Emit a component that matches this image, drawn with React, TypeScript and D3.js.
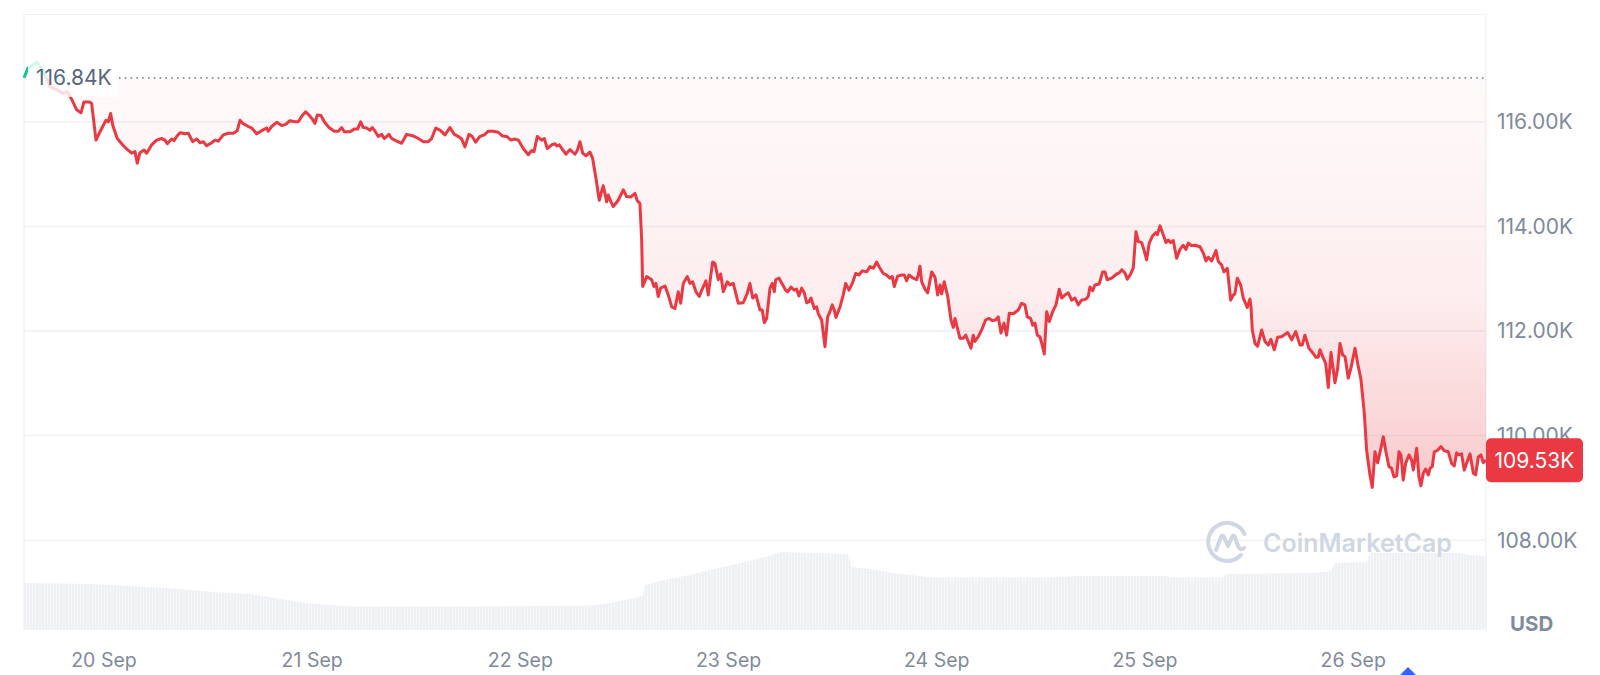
import React from 'react';
import * as d3 from 'd3';

// Price series: [hours since 20 Sep 2025 00:00 UTC, price in thousands USD]
const PRICE_POINTS: [number, number][] = [
  [-9.22,116.84],[-8.76,117.03],[-7.72,117.14],[-6.92,116.95],[-6.22,116.67],[-5.42,116.61],[-4.73,116.54],[-4.27,116.58],[-3.69,116.42],[-3.15,116.23],[-2.65,116.17],[-2.31,116.38],[-1.69,116.38],[-1.42,116.35],[-0.92,115.65],[-0.46,115.81],[0.23,116.03],[0.50,116.00],[0.77,116.16],[1.00,115.94],[1.53,115.68],[1.84,115.62],[2.54,115.49],[3.19,115.40],[3.57,115.43],[3.84,115.21],[4.15,115.41],[4.61,115.46],[4.92,115.40],[5.50,115.56],[6.07,115.65],[6.65,115.68],[7.03,115.65],[7.30,115.58],[7.80,115.67],[8.07,115.64],[8.38,115.72],[8.76,115.79],[9.34,115.77],[9.72,115.78],[10.22,115.62],[10.69,115.67],[11.07,115.60],[11.45,115.62],[11.84,115.54],[12.41,115.60],[12.80,115.65],[13.18,115.63],[13.75,115.75],[14.33,115.78],[14.90,115.78],[15.37,115.83],[15.68,116.03],[15.99,115.97],[16.63,115.91],[17.03,115.88],[17.60,115.77],[18.18,115.83],[18.75,115.88],[18.94,115.82],[19.33,115.91],[19.91,115.99],[20.48,115.93],[20.94,115.95],[21.44,116.02],[22.02,116.00],[22.40,116.00],[22.86,116.12],[23.25,116.19],[23.63,116.13],[24.01,116.05],[24.32,115.97],[24.59,116.13],[25.01,116.12],[25.39,116.00],[25.94,115.89],[26.55,115.82],[27.01,115.82],[27.40,115.89],[27.70,115.81],[28.36,115.81],[28.85,115.86],[29.24,115.86],[29.59,116.00],[29.89,115.89],[30.28,115.88],[30.66,115.84],[30.93,115.89],[31.24,115.82],[31.62,115.72],[32.01,115.76],[32.31,115.68],[32.85,115.76],[33.16,115.68],[33.74,115.63],[34.32,115.59],[34.89,115.76],[35.65,115.73],[36.23,115.68],[36.81,115.62],[37.38,115.62],[37.77,115.68],[38.24,115.88],[38.73,115.84],[39.31,115.75],[39.88,115.89],[40.38,115.76],[40.84,115.72],[41.23,115.67],[41.61,115.52],[42.07,115.76],[42.45,115.72],[42.85,115.61],[43.34,115.72],[43.84,115.75],[44.30,115.82],[44.87,115.82],[45.45,115.80],[45.91,115.73],[46.42,115.72],[46.92,115.65],[47.30,115.67],[47.76,115.65],[48.33,115.49],[48.91,115.37],[49.30,115.45],[49.57,115.43],[49.95,115.72],[50.45,115.65],[50.75,115.68],[51.10,115.49],[51.61,115.56],[51.99,115.58],[52.18,115.54],[52.48,115.56],[52.87,115.47],[53.25,115.38],[53.72,115.47],[54.29,115.38],[54.56,115.45],[54.87,115.62],[55.18,115.40],[55.56,115.35],[56.02,115.42],[56.33,115.30],[56.71,114.92],[57.09,114.50],[57.55,114.78],[57.95,114.47],[58.13,114.60],[58.44,114.47],[58.71,114.38],[59.28,114.50],[59.86,114.70],[60.25,114.57],[60.71,114.56],[61.21,114.63],[61.47,114.49],[61.78,114.44],[61.98,113.74],[62.10,112.85],[62.56,113.04],[63.13,112.98],[63.40,112.85],[63.63,112.91],[63.89,112.66],[64.17,112.82],[64.67,112.86],[65.05,112.69],[65.44,112.46],[65.82,112.43],[66.20,112.75],[66.48,112.53],[66.78,112.91],[67.24,113.04],[67.55,112.91],[67.86,112.94],[68.24,112.75],[68.62,112.66],[69.01,112.82],[69.39,112.96],[69.66,112.69],[69.93,113.04],[70.17,113.32],[70.43,113.29],[70.81,112.98],[71.09,113.09],[71.39,112.75],[71.85,112.94],[72.16,112.88],[72.54,112.91],[73.12,112.53],[73.69,112.54],[74.15,112.72],[74.46,112.91],[74.78,112.63],[75.16,112.69],[75.62,112.40],[75.88,112.40],[76.11,112.16],[76.39,112.24],[76.77,112.82],[77.04,112.91],[77.27,112.75],[77.43,112.98],[77.81,113.01],[78.12,112.92],[78.58,112.78],[78.81,112.75],[79.19,112.84],[79.57,112.78],[79.85,112.80],[80.11,112.67],[80.42,112.82],[80.72,112.73],[81.00,112.54],[81.27,112.56],[81.50,112.63],[81.88,112.43],[82.15,112.46],[82.34,112.33],[82.73,112.21],[83.11,111.70],[83.42,112.27],[83.69,112.37],[83.95,112.50],[84.18,112.40],[84.38,112.26],[84.84,112.46],[85.22,112.69],[85.50,112.91],[85.88,112.78],[86.26,112.91],[86.65,113.10],[87.03,113.07],[87.41,113.15],[87.92,113.13],[88.30,113.23],[88.68,113.20],[89.07,113.32],[89.34,113.23],[89.83,113.10],[90.22,113.07],[90.60,113.01],[90.87,113.04],[91.10,112.85],[91.49,113.05],[91.95,113.07],[92.25,113.07],[92.53,112.96],[92.79,113.07],[93.29,113.01],[93.68,112.98],[93.86,113.07],[94.06,113.24],[94.26,112.94],[94.64,112.80],[94.95,112.73],[95.41,113.13],[95.79,113.03],[96.10,112.69],[96.37,112.88],[96.56,112.71],[96.86,112.94],[97.26,112.66],[97.64,112.21],[97.90,112.07],[98.10,112.24],[98.41,112.03],[98.67,111.86],[99.05,111.86],[99.33,111.92],[99.63,111.80],[99.94,111.67],[100.20,111.92],[100.40,111.80],[100.78,111.89],[101.17,112.02],[101.63,112.21],[102.01,112.24],[102.39,112.20],[102.79,112.21],[103.09,112.27],[103.40,111.96],[103.74,112.15],[104.05,111.92],[104.36,112.34],[104.82,112.33],[105.39,112.40],[105.78,112.53],[106.16,112.50],[106.43,112.27],[106.82,112.24],[107.05,112.11],[107.32,112.15],[107.59,111.92],[107.89,111.89],[108.20,111.70],[108.39,111.56],[108.67,112.37],[108.97,112.18],[109.36,112.37],[109.74,112.50],[110.12,112.80],[110.40,112.63],[110.78,112.69],[111.16,112.73],[111.55,112.59],[111.93,112.63],[112.31,112.50],[112.70,112.59],[113.20,112.61],[113.46,112.66],[113.66,112.84],[113.97,112.77],[114.23,112.88],[114.73,112.90],[115.12,113.13],[115.39,113.13],[115.65,112.98],[116.16,113.01],[116.74,113.09],[117.04,113.11],[117.31,113.17],[117.69,113.11],[117.96,112.99],[118.35,113.09],[118.65,113.20],[118.96,113.90],[119.23,113.71],[119.62,113.69],[119.88,113.55],[120.19,113.36],[120.49,113.68],[120.88,113.82],[121.26,113.88],[121.42,113.84],[121.73,114.01],[122.04,113.87],[122.42,113.69],[122.68,113.74],[122.96,113.69],[123.26,113.73],[123.65,113.39],[124.03,113.56],[124.41,113.64],[124.72,113.56],[124.99,113.68],[125.38,113.63],[125.76,113.64],[126.34,113.61],[126.72,113.49],[127.03,113.34],[127.30,113.41],[127.69,113.34],[128.18,113.54],[128.45,113.33],[128.84,113.26],[129.10,113.13],[129.49,113.20],[129.88,112.59],[130.18,112.69],[130.37,112.71],[130.64,113.01],[131.03,112.88],[131.33,112.63],[131.79,112.45],[132.10,112.61],[132.22,112.46],[132.37,112.02],[132.68,111.76],[132.99,111.71],[133.45,112.02],[133.83,111.80],[134.21,111.73],[134.52,111.84],[134.90,111.64],[135.29,111.88],[135.75,111.89],[136.45,111.97],[136.91,111.83],[137.37,111.99],[137.87,111.73],[138.13,111.73],[138.44,111.92],[138.90,111.67],[139.40,111.57],[139.68,111.50],[139.97,111.50],[140.17,111.64],[140.55,111.48],[140.83,111.38],[141.13,110.92],[141.44,111.59],[141.71,111.25],[141.90,111.01],[142.21,111.29],[142.48,111.76],[142.79,111.54],[143.06,111.51],[143.43,111.10],[143.74,111.29],[144.21,111.67],[144.52,111.38],[144.89,111.08],[145.28,110.43],[145.55,109.72],[145.93,109.25],[146.20,109.01],[146.51,109.69],[146.82,109.48],[147.20,109.76],[147.47,109.98],[147.74,109.72],[148.12,109.41],[148.43,109.37],[148.70,109.21],[149.01,109.23],[149.28,109.69],[149.51,109.63],[149.77,109.15],[150.05,109.47],[150.43,109.63],[150.74,109.53],[150.93,109.34],[151.32,109.76],[151.58,109.21],[151.81,109.04],[152.08,109.28],[152.36,109.36],[152.66,109.25],[152.85,109.37],[153.12,109.41],[153.35,109.69],[153.74,109.72],[154.12,109.79],[154.50,109.71],[154.96,109.69],[155.35,109.47],[155.65,109.42],[155.93,109.67],[156.19,109.63],[156.50,109.65],[156.80,109.34],[157.08,109.47],[157.47,109.65],[157.85,109.28],[158.12,109.25],[158.42,109.59],[158.73,109.63],[159.00,109.48],[159.31,109.53]
];

// Volume readings: [hours since 20 Sep 2025 00:00 UTC, 24h volume (B USD)]
const VOLUME_POINTS: [number, number][] = [
  [-9.22,47],[-1.38,46],[7.38,42],[12.68,38],[16.83,36],[19.71,32],[23.29,27],[28.59,23.5],[42.19,23.5],[56.25,24.5],[58.33,27],[60.06,30],[62.13,34],[62.36,45],[64.09,49],[67.44,55],[70.32,61],[73.32,67],[76.20,73],[77.93,78],[85.77,76],[86.11,63],[88.30,61],[90.84,57],[95.57,52.5],[108.48,52.5],[112.51,54],[122.54,54],[122.88,52.5],[128.99,52.5],[129.34,56],[139.02,57],[141.33,58.5],[141.90,67],[145.48,68],[145.93,77],[156.08,77],[157.47,75],[159.31,74]
];

const Y_TICKS = [108, 110, 112, 114, 116];
const OPEN_PRICE = 116.84;
const LAST_PRICE = 109.53;
const CURRENCY = 'USD';
const WATERMARK = 'CoinMarketCap';

const START = Date.UTC(2025, 8, 20, 0, 0, 0);
const toDate = (h: number) => new Date(START + h * 3600 * 1000);

const W = 1600;
const H = 675;
const FONT = 'Inter, "Noto Sans", sans-serif';
const RED = '#ea3943';
const GREEN = '#16c784';

export default function App() {
  const data = PRICE_POINTS.map(([h, p]) => ({ t: toDate(h), p }));
  const vol = VOLUME_POINTS.map(([h, v]) => ({ t: toDate(h), v }));

  const x = d3.scaleUtc().domain([data[0].t, data[data.length - 1].t]).range([24, 1486]);
  const y = d3.scaleLinear().domain([108, 116]).range([540.2, 121.8]);
  const yv = d3.scaleLinear().domain([0, 100]).range([630, 530]);

  const yBase = y(OPEN_PRICE);
  const minP = d3.min(data, (d) => d.p) as number;

  const line = d3.line<{ t: Date; p: number }>().x((d) => x(d.t)).y((d) => y(d.p));
  const area = d3
    .area<{ t: Date; p: number }>()
    .x((d) => x(d.t))
    .y0(yBase)
    .y1((d) => y(d.p));
  const volArea = d3
    .area<{ t: Date; v: number }>()
    .x((d) => x(d.t))
    .y0(yv(0))
    .y1((d) => yv(d.v));

  const xTicks = x.ticks(d3.utcDay.every(1) as any);
  const fmtDay = d3.utcFormat('%-d %b');
  const fmtK = (v: number) => v.toFixed(2) + 'K';

  const [x0, x1] = x.range();
  const badgeW = 97;

  return (
    <svg
      width={W}
      height={H}
      viewBox={`0 0 ${W} ${H}`}
      style={{ position: 'absolute', left: 0, top: 0, background: '#fff' }}
      fontFamily={FONT}
    >
      <defs>
        <linearGradient id="redFill" gradientUnits="userSpaceOnUse" x1={0} x2={0} y1={yBase} y2={y(minP)}>
          <stop offset="0" stopColor={RED} stopOpacity={0.025} />
          <stop offset="0.54" stopColor={RED} stopOpacity={0.09} />
          <stop offset="1" stopColor={RED} stopOpacity={0.27} />
        </linearGradient>
        <linearGradient id="greenFill" gradientUnits="userSpaceOnUse" x1={0} x2={0} y1={y(117.2)} y2={yBase}>
          <stop offset="0" stopColor={GREEN} stopOpacity={0.2} />
          <stop offset="1" stopColor={GREEN} stopOpacity={0.03} />
        </linearGradient>
        <pattern id="volStripes" patternUnits="userSpaceOnUse" width={3} height={10}>
          <rect x={0} y={0} width={3} height={10} fill="#eef0f4" />
          <rect x={2.2} y={0} width={0.8} height={10} fill="#f8f9fb" />
        </pattern>
        <clipPath id="below">
          <rect x={0} y={yBase} width={W} height={H - yBase} />
        </clipPath>
        <clipPath id="above">
          <rect x={0} y={0} width={W} height={yBase} />
        </clipPath>
      </defs>

      {/* frame */}
      <line x1={x0} x2={x1} y1={14.5} y2={14.5} stroke="#eff2f5" strokeWidth={1} />
      <line x1={x0} x2={x0} y1={14} y2={630} stroke="#eff2f5" strokeWidth={1.5} />
      <line x1={x1} x2={x1} y1={14} y2={630} stroke="#eff2f5" strokeWidth={1.5} />

      {/* grid */}
      {Y_TICKS.map((v) => (
        <line key={v} x1={x0} x2={x1} y1={y(v)} y2={y(v)} stroke="#eff1f4" strokeWidth={1.5} />
      ))}

      {/* volume */}
      <path d={volArea(vol) || ''} fill="url(#volStripes)" />

      {/* watermark */}
      <g transform="translate(1227,542)" fill="none" stroke="#cfd6e4" strokeWidth={4} strokeLinecap="round" strokeLinejoin="round">
        <path d="M 17.5 -8 A 19 19 0 1 0 14 13" />
        <path d="M -11 8 L -6 -5 Q -4.5 -8 -3 -5 L 1 4 L 5 -5 Q 6.5 -8 8 -5 L 11 4 Q 13 9 17 6" />
      </g>
      <text x={1263} y={552} fontSize={25} fontWeight={600} fill="#cfd6e4">{WATERMARK}</text>

      {/* price area */}
      <path d={area(data) || ''} fill="url(#redFill)" clipPath="url(#below)" />
      <path d={area(data) || ''} fill="url(#greenFill)" clipPath="url(#above)" />

      {/* price line */}
      <path d={line(data) || ''} fill="none" stroke={RED} strokeWidth={3} strokeLinejoin="round" clipPath="url(#below)" />
      <path d={line(data) || ''} fill="none" stroke={GREEN} strokeWidth={3} strokeLinejoin="round" clipPath="url(#above)" />

      {/* opening price marker */}
      <line x1={119} x2={x1} y1={yBase} y2={yBase} stroke="#808a9d" strokeWidth={1.6} strokeDasharray="1.6 4.2" />
      <rect x={28} y={59} width={90} height={38} fill="#fff" fillOpacity={0.82} />
      <text x={36} y={yBase} dy="0.35em" fontSize={21} fill="#58667e">{fmtK(OPEN_PRICE)}</text>

      {/* y axis labels */}
      {Y_TICKS.map((v) => (
        <text key={v} x={1497} y={y(v)} dy="0.35em" fontSize={21} fill="#808a9d">{fmtK(v)}</text>
      ))}
      <text x={1510} y={624} dy="0.35em" fontSize={20.5} fontWeight={700} fill="#808a9d">{CURRENCY}</text>

      {/* last price badge */}
      <rect x={x1} y={y(LAST_PRICE) - 22} width={badgeW} height={44} rx={5} fill={RED} />
      <text x={x1 + badgeW / 2} y={y(LAST_PRICE)} dy="0.35em" textAnchor="middle" fontSize={21} fill="#fff">{fmtK(LAST_PRICE)}</text>

      {/* x axis labels */}
      {xTicks.map((t) => (
        <text key={+t} x={x(t)} y={660} dy="0.35em" textAnchor="middle" fontSize={19.5} fill="#808a9d">{fmtDay(t)}</text>
      ))}

      {/* cut-off slider handle */}
      <path d="M 1400 675 L 1408 667 L 1416 675 Z" fill="#3861fb" />
    </svg>
  );
}
